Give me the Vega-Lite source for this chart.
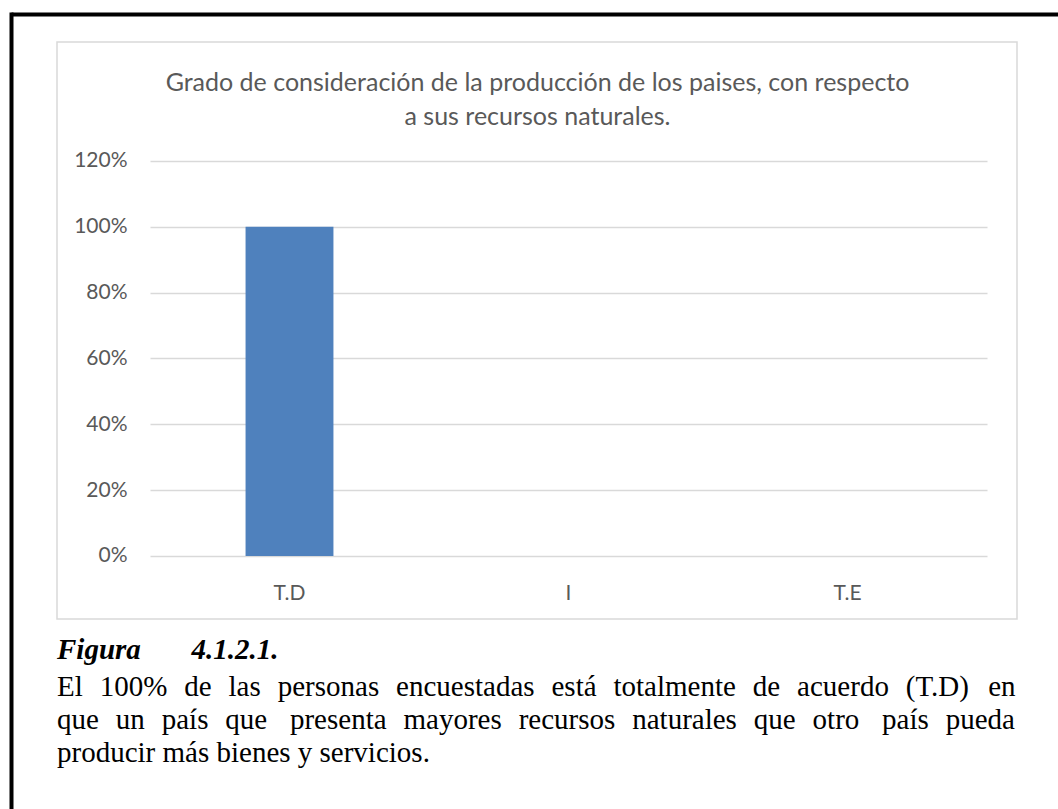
{
  "$schema": "https://vega.github.io/schema/vega-lite/v6.json",
  "width": 960,
  "height": 577,
  "autosize": "none",
  "padding": {"left": 57, "top": 42, "right": 41, "bottom": 190},
  "background": "white",
  "config": {
    "view": {"stroke": "#d9d9d9", "strokeWidth": 1.5, "fill": "white"}
  },
  "title": {
    "text": "Figura\u00a0\u00a0\u00a0\u00a0\u00a0\u00a0\u00a04.1.2.1.",
    "subtitle": [
      "El \u2004100% \u2004de \u2004las \u2004personas \u2004encuestadas \u2004está \u2004totalmente \u2004de \u2004acuerdo \u2004(T.D)\u200a \u2004en",
      "que \u2004un \u2004país \u2004que\u2009 \u2004presenta \u2004mayores \u2004recursos \u2004naturales \u2004que \u2004otro\u2009 \u2004país \u2004pueda",
      "producir más bienes y servicios."
    ],
    "orient": "bottom",
    "anchor": "start",
    "frame": "group",
    "offset": -216,
    "baseline": "top",
    "font": "Liberation Serif",
    "fontSize": 29,
    "fontStyle": "italic",
    "fontWeight": "bold",
    "color": "black",
    "subtitleFont": "Liberation Serif",
    "subtitleFontSize": 29,
    "subtitleFontWeight": "normal",
    "subtitleColor": "black",
    "subtitleLineHeight": 33,
    "subtitlePadding": 8
  },
  "layer": [
    {
      "data": {"values": [
        {"cat": "T.D", "value": 1.0},
        {"cat": "I", "value": 0.0},
        {"cat": "T.E", "value": 0.0}
      ]},
      "mark": {"type": "bar", "color": "#4f81bd"},
      "encoding": {
        "x": {
          "field": "cat", "type": "nominal",
          "scale": {"domain": ["T.D", "I", "T.E"], "range": [93, 930], "paddingInner": 0.685, "paddingOuter": 0.3425},
          "axis": {
            "orient": "bottom", "offset": -40, "title": null,
            "domain": false, "ticks": false, "tickSize": 0, "grid": false,
            "labelAngle": 0, "labelFont": "Lato", "labelFontSize": 21, "labelColor": "#595959",
            "labelBaseline": "alphabetic", "labelPadding": 20
          }
        },
        "y": {
          "field": "value", "type": "quantitative",
          "scale": {"domain": [-0.1914, 1.5615], "nice": false, "zero": false},
          "axis": {
            "orient": "left", "offset": -80, "title": null,
            "values": [0, 0.2, 0.4, 0.6, 0.8, 1.0, 1.2], "format": ".0%",
            "domain": false, "ticks": false, "tickSize": 0,
            "grid": true, "gridColor": "#d9d9d9", "gridWidth": 1.3,
            "labelFont": "Lato", "labelFontSize": 21, "labelColor": "#595959", "labelPadding": 10
          }
        }
      }
    },
    {
      "data": {"values": [{}]},
      "mark": {"type": "point", "opacity": 0},
      "encoding": {
        "x": {
          "datum": 0, "type": "quantitative",
          "scale": {"domain": [0, 1], "range": [-46, 1010], "nice": false, "zero": false},
          "axis": {
            "orient": "top", "offset": 28,
            "domain": true, "domainColor": "black", "domainWidth": 4, "domainCap": "butt",
            "labels": false, "ticks": false, "grid": false,
            "title": ["Grado de consideración de la producción de los paises, con respecto", "a sus recursos naturales."],
            "titleX": 480, "titleY": 76, "titleAlign": "center", "titleBaseline": "alphabetic",
            "titleFont": "Lato", "titleFontSize": 25, "titleFontWeight": "normal", "titleColor": "#595959",
            "titleLineHeight": 34, "titleAngle": 0
          }
        },
        "y": {
          "datum": 0, "type": "quantitative",
          "scale": {"domain": [0, 1], "range": [-30, 780], "nice": false, "zero": false},
          "axis": {
            "orient": "left", "offset": 46,
            "domain": true, "domainColor": "black", "domainWidth": 4, "domainCap": "butt",
            "labels": false, "ticks": false, "grid": false, "title": null
          }
        }
      }
    }
  ],
  "resolve": {
    "scale": {"x": "independent", "y": "independent"},
    "axis": {"x": "independent", "y": "independent"}
  }
}
